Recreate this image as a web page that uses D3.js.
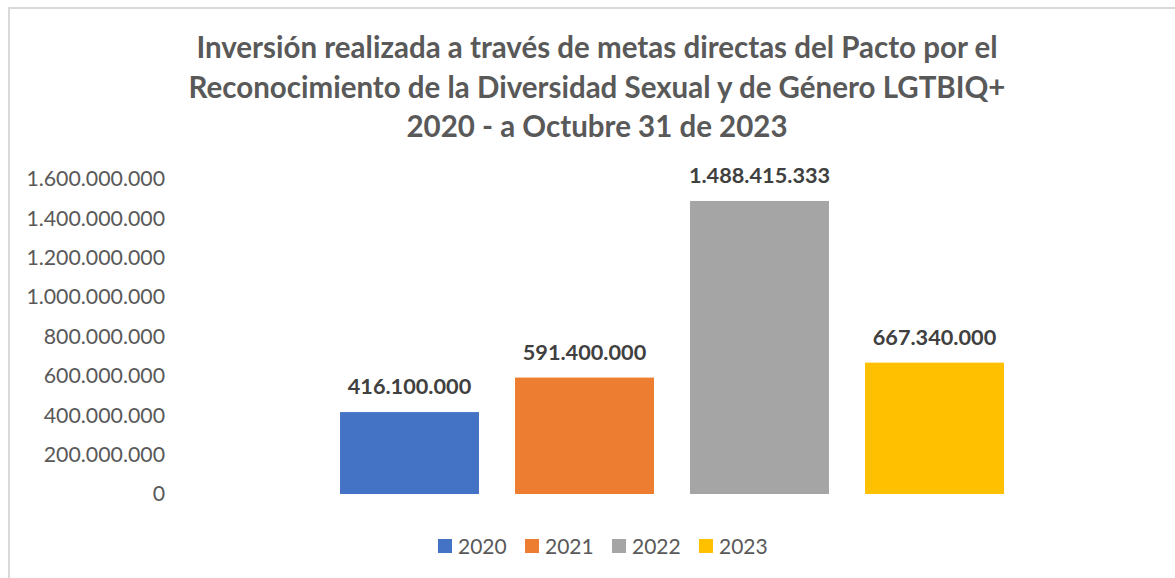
<!DOCTYPE html>
<html><head><meta charset="utf-8">
<script src="https://cdn.jsdelivr.net/npm/d3@7"></script>
<style>html,body{margin:0;padding:0;background:#fff;}svg{display:block;}</style>
</head><body>
<svg id="chart" width="1175" height="578"></svg>
<script>
const titleLines = ["Inversión realizada a través de metas directas del Pacto por el",
  "Reconocimiento de la Diversidad Sexual y de Género LGTBIQ+",
  "2020 - a Octubre 31 de 2023"];
const series = ["2020", "2021", "2022", "2023"];
const values = [416100000, 591400000, 1488415333, 667340000];
const valueLabels = ["416.100.000", "591.400.000", "1.488.415.333", "667.340.000"];
const colors = ["#4472C4", "#ED7D31", "#A5A5A5", "#FFC000"];
const yTicks = [0, 200000000, 400000000, 600000000, 800000000, 1000000000, 1200000000, 1400000000, 1600000000];

const FONT = "Lato, 'Open Sans', sans-serif";
const svg = d3.select("#chart");
svg.append("rect").attr("x", 9).attr("y", 8).attr("width", 1200).attr("height", 600)
  .attr("fill", "none").attr("stroke", "#d9d9d9").attr("stroke-width", 2);

svg.append("g").selectAll("text").data(titleLines).join("text")
  .attr("x", 597).attr("y", (d, i) => 58 + i * 39.5)
  .attr("text-anchor", "middle").attr("font-family", FONT).attr("font-weight", "bold")
  .attr("font-size", 29.5).attr("fill", "#595959").text(d => d);

const y = d3.scaleLinear().domain([0, 1600000000]).range([494, 179]);
const x = d3.scaleBand().domain(series).range([322, 1022]).paddingInner(0.206).paddingOuter(0.103);

const fmt = v => d3.format(",")(v).replace(/,/g, ".");
const yAxis = d3.axisLeft(y).tickValues(yTicks).tickFormat(fmt).tickSize(0).tickPadding(0);
const ga = svg.append("g").attr("transform", "translate(165,0)").call(yAxis);
ga.select(".domain").remove();
ga.selectAll("text").attr("font-family", FONT).attr("font-size", 21.3).attr("fill", "#595959");

svg.append("g").selectAll("rect").data(series).join("rect")
  .attr("x", d => x(d)).attr("width", x.bandwidth())
  .attr("y", (d, i) => y(values[i])).attr("height", (d, i) => y(0) - y(values[i]))
  .attr("fill", (d, i) => colors[i]);

svg.append("g").selectAll("text").data(series).join("text")
  .attr("x", d => x(d) + x.bandwidth() / 2).attr("y", (d, i) => y(values[i]) - 18)
  .attr("text-anchor", "middle").attr("font-family", FONT).attr("font-weight", "bold")
  .attr("font-size", 21.7).attr("fill", "#404040").text((d, i) => valueLabels[i]);

const lg = svg.append("g").selectAll("g").data(series).join("g")
  .attr("transform", (d, i) => `translate(${438 + i * 87},539)`);
lg.append("rect").attr("width", 14).attr("height", 14).attr("fill", (d, i) => colors[i]);
lg.append("text").attr("x", 20).attr("y", 14.5).attr("font-family", FONT).attr("font-size", 21)
  .attr("fill", "#595959").text(d => d);
</script>
</body></html>
